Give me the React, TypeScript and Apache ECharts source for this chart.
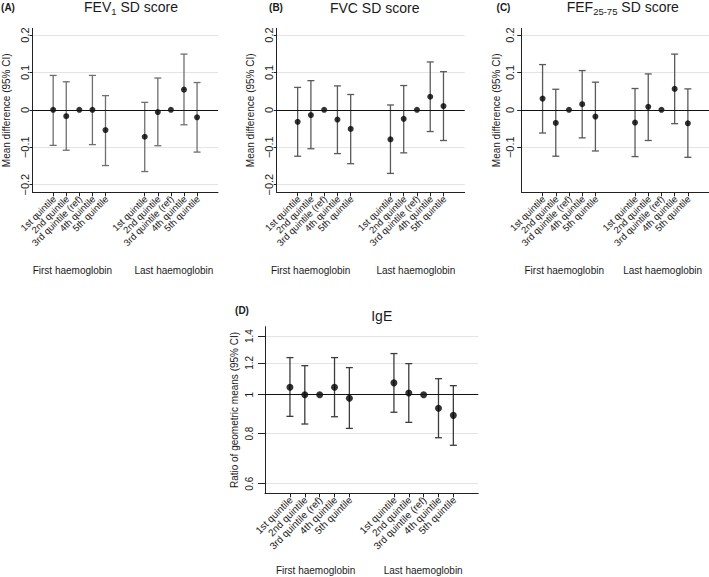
import React, { useEffect, useRef } from 'react';
import * as echarts from 'echarts';

// ---- Data ----
const QUINTILES = ['1st quintile', '2nd quintile', '3rd quintile (ref)', '4th quintile', '5th quintile'];
const X_POS = [1, 2, 3, 4, 5, 8, 9, 10, 11, 12];
const GROUPS = ['First haemoglobin', 'Last haemoglobin'];

const FEV1_EST = [0.0, -0.017, 0, 0.0, -0.054, -0.072, -0.006, 0, 0.054, -0.02];
const FEV1_LO = [-0.095, -0.108, null, -0.093, -0.149, -0.165, -0.096, null, -0.04, -0.113];
const FEV1_HI = [0.092, 0.075, null, 0.092, 0.038, 0.02, 0.085, null, 0.149, 0.073];

const FVC_EST = [-0.032, -0.014, 0, -0.026, -0.051, -0.079, -0.024, 0, 0.035, 0.01];
const FVC_LO = [-0.124, -0.104, null, -0.117, -0.144, -0.17, -0.115, null, -0.058, -0.082];
const FVC_HI = [0.06, 0.078, null, 0.064, 0.041, 0.013, 0.065, null, 0.128, 0.102];

const FEF_EST = [0.03, -0.035, 0, 0.015, -0.018, -0.034, 0.008, 0, 0.056, -0.036];
const FEF_LO = [-0.062, -0.124, null, -0.075, -0.11, -0.125, -0.082, null, -0.037, -0.127];
const FEF_HI = [0.121, 0.055, null, 0.105, 0.074, 0.057, 0.096, null, 0.149, 0.056];

const IGE_EST = [1.043, 1.0, 1, 1.043, 0.98, 1.07, 1.01, 1, 0.925, 0.888];
const IGE_LO = [0.883, 0.845, null, 0.881, 0.824, 0.904, 0.853, null, 0.781, 0.748];
const IGE_HI = [1.237, 1.181, null, 1.237, 1.168, 1.266, 1.195, null, 1.096, 1.053];

const TOP_TICKS = [-0.2, -0.1, 0, 0.1, 0.2];
const FEF_TICKS = [-0.1, 0, 0.1, 0.2];
const IGE_TICKS = [0.6, 0.8, 1, 1.2, 1.4];

const FONT = '"Liberation Sans", Arial, sans-serif';
const TXT = '#1a1a1a';

type Panel = {
  letter: string;
  title: string;
  rich: boolean;
  titleX: number;
  titleY: number;
  letterX: number;
  letterY: number;
  grid: { left: number; top: number; width: number; height: number };
  xMin: number;
  xMax: number;
  yMin: number;
  yMax: number;
  ticks: number[];
  est: number[];
  lo: (number | null)[];
  hi: (number | null)[];
  log: boolean;
  yName: string;
  nameGap: number;
  labelMargin: number;
  yLabelSize: number;
  yTickLen: number;
  xLabelSize: number;
  groupPos: number[];
  groupOffset: number;
  symbolSize: number;
  barColor: string;
};

const TOP_GRID = { top: 28.3, width: 188, height: 164 };

const PANELS: Panel[] = [
  {
    letter: '(A)', title: '{a|FEV}{s|1}{a| SD score}', rich: true, titleX: 131, titleY: 8, letterX: 8, letterY: 7,
    grid: { left: 30, ...TOP_GRID }, xMin: -0.58, xMax: 13.6, yMin: -0.2205, yMax: 0.218,
    ticks: TOP_TICKS, est: FEV1_EST, lo: FEV1_LO, hi: FEV1_HI, log: false,
    yName: 'Mean difference (95% CI)', nameGap: 21.5, labelMargin: 2, yLabelSize: 11, yTickLen: 3, xLabelSize: 9.5,
    groupPos: [2.47, 10.23], groupOffset: 77.7, symbolSize: 6, barColor: '#6f6f6f',
  },
  {
    letter: '(B)', title: 'FVC SD score', rich: false, titleX: 374.7, titleY: 7.5, letterX: 276, letterY: 7,
    grid: { left: 276.7, ...TOP_GRID }, xMin: -0.58, xMax: 13.6, yMin: -0.2205, yMax: 0.218,
    ticks: TOP_TICKS, est: FVC_EST, lo: FVC_LO, hi: FVC_HI, log: false,
    yName: 'Mean difference (95% CI)', nameGap: 21.5, labelMargin: 2, yLabelSize: 11, yTickLen: 3, xLabelSize: 9.5,
    groupPos: [1.98, 9.92], groupOffset: 77.7, symbolSize: 6, barColor: '#5a5a5a',
  },
  {
    letter: '(C)', title: '{a|FEF}{s|25-75}{a| SD score}', rich: true, titleX: 622.8, titleY: 8, letterX: 503.5, letterY: 7,
    grid: { left: 521.7, ...TOP_GRID }, xMin: -0.58, xMax: 13.6, yMin: -0.2205, yMax: 0.218,
    ticks: FEF_TICKS, est: FEF_EST, lo: FEF_LO, hi: FEF_HI, log: false,
    yName: 'Mean difference (95% CI)', nameGap: 20, labelMargin: 6.5, yLabelSize: 11, yTickLen: 4.5, xLabelSize: 9.5,
    groupPos: [2.64, 10.09], groupOffset: 77.7, symbolSize: 6, barColor: '#5a5a5a',
  },
  {
    letter: '(D)', title: 'IgE', rich: false, titleX: 381.7, titleY: 316, letterX: 242, letterY: 310,
    grid: { left: 265, top: 326.7, width: 213.3, height: 166.6 }, xMin: -0.68, xMax: 13.68, yMin: -0.566, yMax: 0.39,
    ticks: IGE_TICKS, est: IGE_EST, lo: IGE_LO, hi: IGE_HI, log: true,
    yName: 'Ratio of geometric means (95% CI)', nameGap: 25.7, labelMargin: 11, yLabelSize: 10, yTickLen: 7, xLabelSize: 10,
    groupPos: [2.73, 9.97], groupOffset: 77, symbolSize: 7, barColor: '#3c3c3c',
  },
];

function fmtDiff(v: number): string {
  const r = Math.round(v * 10) / 10;
  if (Math.abs(r) < 1e-9) return '0';
  return r < 0 ? '\u2212' + String(Math.abs(r)) : String(r);
}
function fmtRatio(v: number): string {
  return String(Math.round(Math.exp(v) * 10) / 10);
}

function buildOption(): any {
  const grid: any[] = [];
  const xAxis: any[] = [];
  const yAxis: any[] = [];
  const series: any[] = [];
  PANELS.forEach((p, i) => {
    const t = (v: number) => (p.log ? Math.log(v) : v);
    grid.push({ ...p.grid, containLabel: false });
    xAxis.push({
      type: 'value', gridIndex: i, min: p.xMin, max: p.xMax,
      axisLine: { show: true, onZero: false, lineStyle: { color: '#222', width: 1 } },
      axisTick: { show: true, length: 4, customValues: X_POS, lineStyle: { color: '#222', width: 1 } },
      axisLabel: { show: false },
      splitLine: { show: false },
    });
    const tickVals = p.ticks.map(t);
    yAxis.push({
      type: 'value', gridIndex: i, min: p.yMin, max: p.yMax,
      axisLine: { show: true, onZero: false, lineStyle: { color: '#222', width: 1 } },
      axisTick: { show: true, length: p.yTickLen, customValues: tickVals, lineStyle: { color: '#222', width: 1 } },
      axisLabel: {
        customValues: tickVals, rotate: 90, margin: p.labelMargin, fontSize: p.yLabelSize, color: TXT, fontFamily: FONT,
        interval: 0, hideOverlap: false,
        formatter: (v: number) => (p.log ? fmtRatio(v) : fmtDiff(v)),
      },
      splitLine: { show: true, lineStyle: { color: '#e4e4e4', width: 1 } },
      name: p.yName, nameLocation: 'middle', nameGap: p.nameGap,
      nameTextStyle: { fontSize: 10, color: TXT, fontFamily: FONT },
    });
    const barData: number[][] = [];
    X_POS.forEach((x, k) => {
      const lo = p.lo[k];
      const hi = p.hi[k];
      if (lo != null && hi != null) barData.push([x, t(lo), t(hi)]);
    });
    const color = p.barColor;
    series.push({
      type: 'custom', xAxisIndex: i, yAxisIndex: i, data: barData, encode: { x: 0, y: [1, 2] },
      renderItem: (params: any, api: any) => {
        const x = api.value(0);
        const a = api.coord([x, api.value(1)]);
        const b = api.coord([x, api.value(2)]);
        const cap = 3.5;
        const style = { stroke: color, lineWidth: 1.3 };
        return {
          type: 'group',
          children: [
            { type: 'line', shape: { x1: a[0], y1: a[1], x2: b[0], y2: b[1] }, style },
            { type: 'line', shape: { x1: a[0] - cap, y1: a[1], x2: a[0] + cap, y2: a[1] }, style },
            { type: 'line', shape: { x1: b[0] - cap, y1: b[1], x2: b[0] + cap, y2: b[1] }, style },
          ],
        };
      },
      z: 3,
    });
    series.push({
      type: 'scatter', xAxisIndex: i, yAxisIndex: i,
      data: X_POS.map((x, k) => [x, t(p.est[k])]),
      symbol: 'circle', symbolSize: p.symbolSize, itemStyle: { color: '#000' }, z: 4,
      markLine: {
        silent: true, symbol: ['none', 'none'], label: { show: false },
        lineStyle: { color: '#111', width: 1.2, type: 'solid' },
        data: [{ yAxis: t(p.log ? 1 : 0) }],
      },
    });
  });
  return { animation: false, backgroundColor: '#fff', grid, xAxis, yAxis, series };
}

export default function App() {
  const ref = useRef<HTMLDivElement>(null);
  useEffect(() => {
    if (!ref.current) return;
    const chart = echarts.init(ref.current, undefined, { renderer: 'svg' });
    chart.setOption(buildOption());
    const graphic: any[] = [];
    PANELS.forEach((p, i) => {
      graphic.push({
        type: 'text', x: p.letterX, y: p.letterY,
        style: { text: p.letter, fontSize: 10, fontWeight: 'bold', fontFamily: FONT, fill: TXT, align: 'center', verticalAlign: 'middle' },
      });
      if (p.rich) {
        graphic.push({
          type: 'text', x: p.titleX, y: p.titleY,
          style: {
            text: p.title, fontFamily: FONT, fill: TXT, align: 'center', verticalAlign: 'middle',
            rich: {
              a: { fontSize: 14, fontFamily: FONT, fill: TXT, verticalAlign: 'bottom', padding: [0, 0, 2, 0] },
              s: { fontSize: 9.5, fontFamily: FONT, fill: TXT, verticalAlign: 'bottom' },
            },
          },
        });
      } else {
        graphic.push({
          type: 'text', x: p.titleX, y: p.titleY,
          style: { text: p.title, fontSize: 14, fontFamily: FONT, fill: TXT, align: 'center', verticalAlign: 'middle' },
        });
      }
      // rotated category labels at each tick, placed through the axis scale
      X_POS.forEach((x, k) => {
        const px = chart.convertToPixel({ gridIndex: i } as any, [x, p.yMin]) as number[];
        graphic.push({
          type: 'text', x: px[0] + 1, y: px[1] + 5, rotation: Math.PI / 4,
          style: { text: QUINTILES[k % 5], fontSize: p.xLabelSize, fontFamily: FONT, fill: TXT, align: 'right', verticalAlign: 'middle' },
        });
      });
      p.groupPos.forEach((gx, g) => {
        const px = chart.convertToPixel({ gridIndex: i } as any, [gx, p.yMin]) as number[];
        graphic.push({
          type: 'text', x: px[0], y: px[1] + p.groupOffset,
          style: { text: GROUPS[g], fontSize: 10, fontFamily: FONT, fill: TXT, align: 'center', verticalAlign: 'middle' },
        });
      });
    });
    chart.setOption({ graphic });
    return () => chart.dispose();
  }, []);
  return <div ref={ref} style={{ position: 'fixed', left: 0, top: 0, width: 709, height: 577, background: '#fff' }} />;
}
